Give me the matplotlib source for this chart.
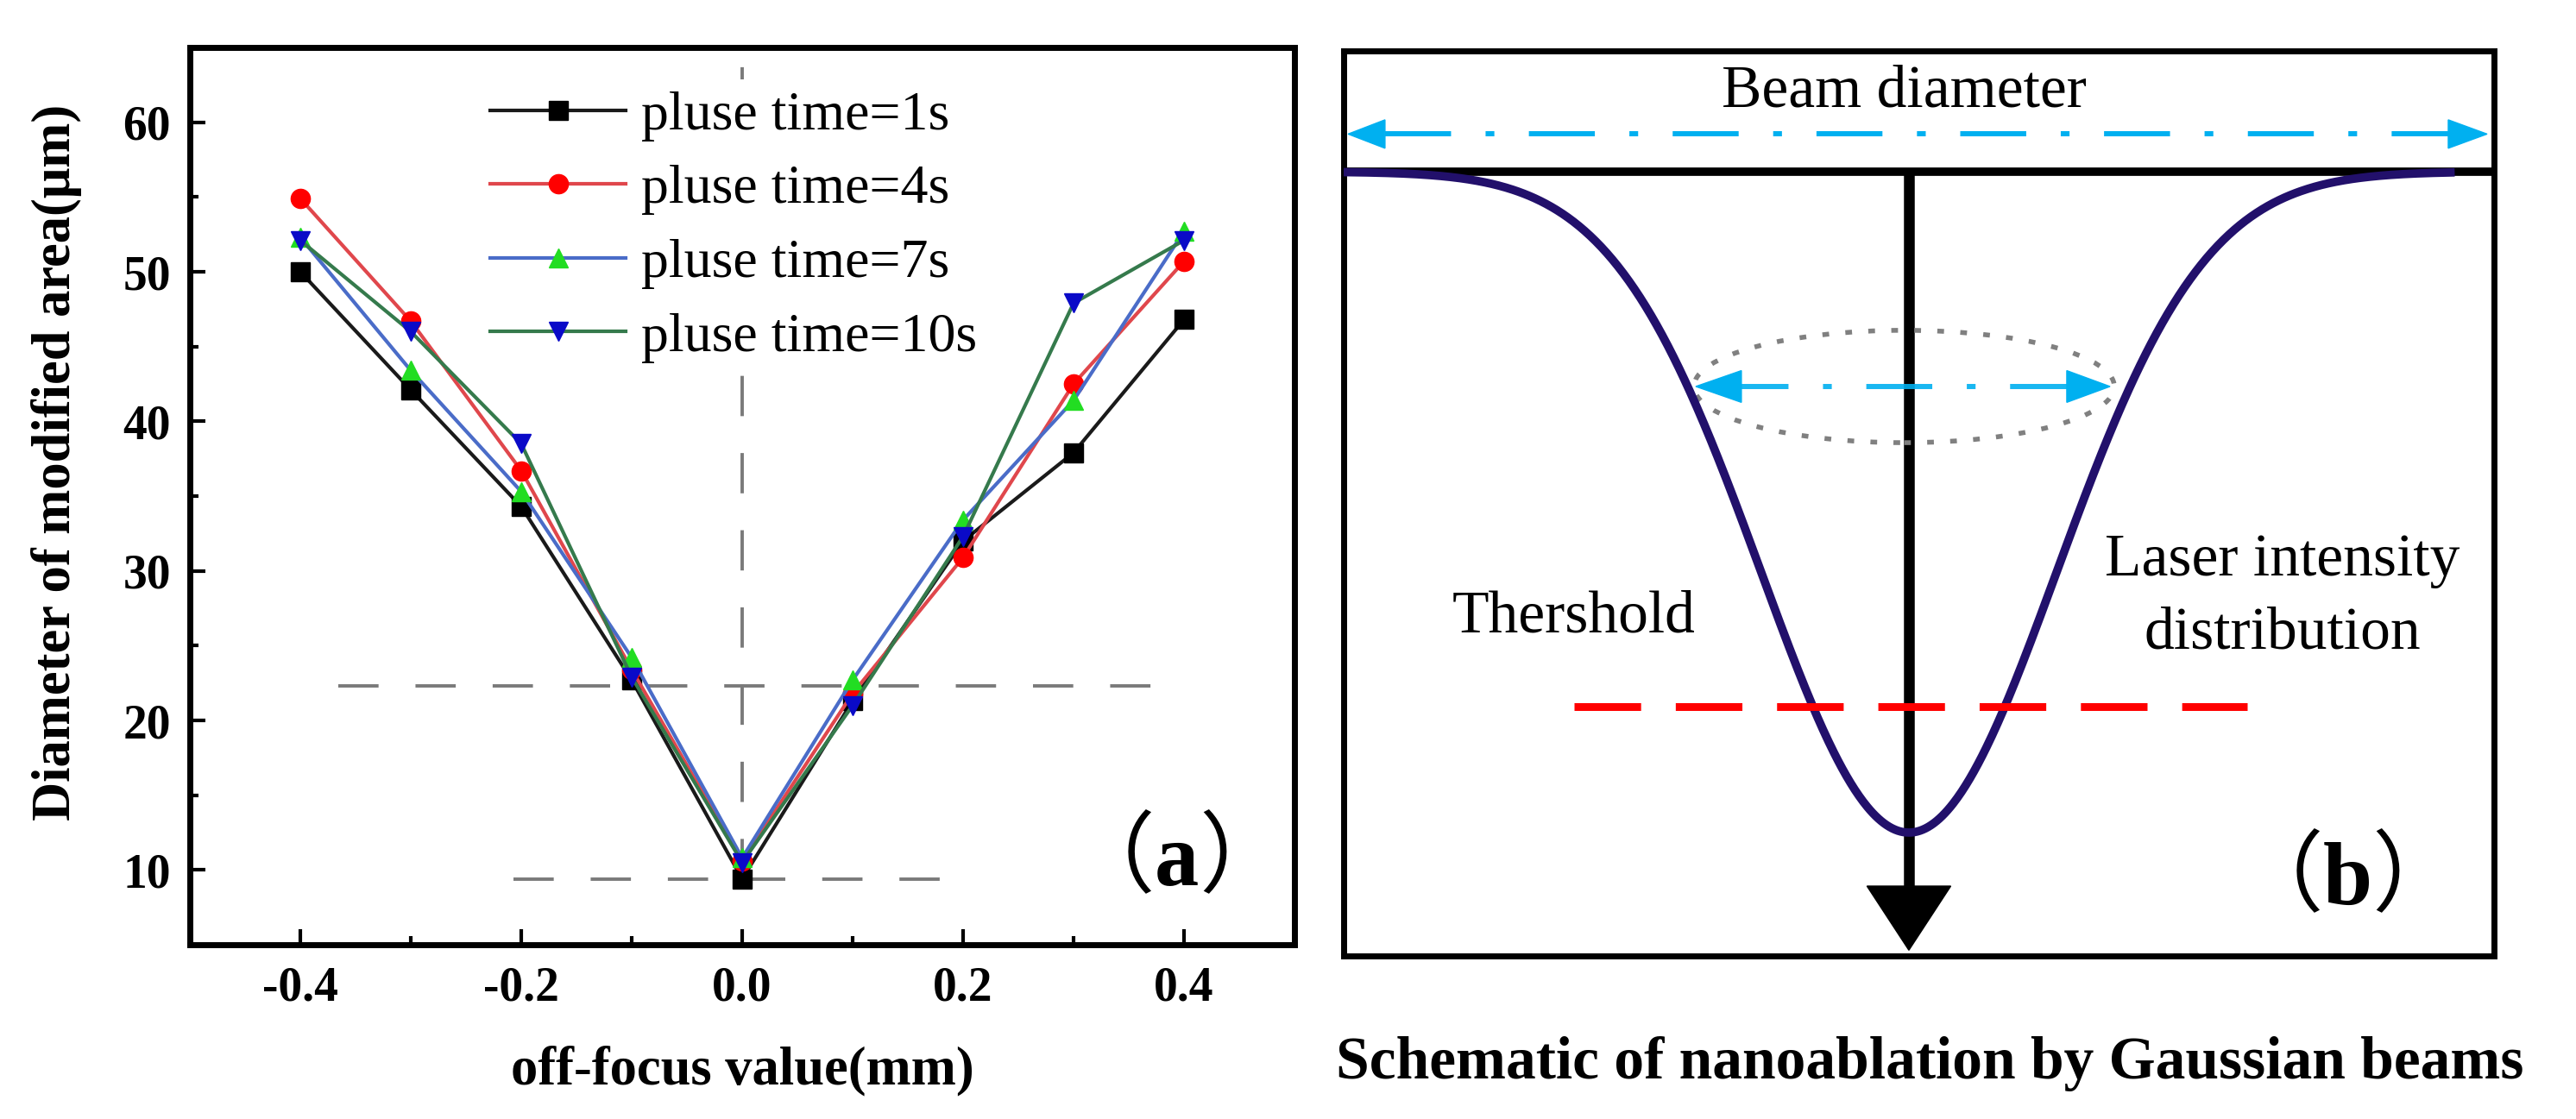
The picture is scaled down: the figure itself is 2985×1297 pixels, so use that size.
import numpy as np
import matplotlib
matplotlib.use("Agg")
import matplotlib.pyplot as plt
from matplotlib.patches import Ellipse
from matplotlib.ticker import MultipleLocator

plt.rcParams['font.family'] = ['Liberation Serif', 'Noto Sans CJK SC', 'DejaVu Sans']
plt.rcParams['mathtext.fontset'] = 'custom'
plt.rcParams['mathtext.bf'] = 'Liberation Serif:bold'
plt.rcParams['mathtext.rm'] = 'Liberation Serif'

# ---------------- data: panel (a) ----------------
off_focus = [-0.4, -0.3, -0.2, -0.1, 0.0, 0.1, 0.2, 0.3, 0.4]
diam_1s = [50.0, 42.1, 34.3, 22.7, 9.4, 21.3, 32.0, 37.9, 46.8]
diam_4s = [54.9, 46.7, 36.7, 23.4, 10.6, 21.8, 30.9, 42.5, 50.7]
diam_7s = [52.3, 43.4, 35.3, 24.2, 10.8, 22.7, 33.4, 41.4, 52.7]
diam_10s = [52.1, 46.0, 38.5, 22.9, 10.5, 21.0, 32.3, 47.9, 52.1]
series_labels = ['pluse time=1s', 'pluse time=4s', 'pluse time=7s', 'pluse time=10s']

x_ticks = [-0.4, -0.2, 0.0, 0.2, 0.4]
x_tick_labels = ['-0.4', '-0.2', '0.0', '0.2', '0.4']
y_ticks = [10, 20, 30, 40, 50, 60]

# guide lines (values)
focus_x = 0.0
focus_span = (9.4, 64.2)
guide_upper_y = 22.3
guide_upper_span = (-0.366, 0.389)
guide_lower_y = 9.4
guide_lower_span = (-0.207, 0.204)

# ---------------- schematic values: panel (b) ----------------
beam_sigma = 1.0
beam_depth = 1.0
curve_span = (-3.83, 3.67)
threshold_level = -0.81
threshold_span = (-2.27, 2.29)
beam_arrow_level = 0.057
beam_arrow_tips = (-3.80, 3.918)
beam_arrow_bases = (-3.55, 3.655)
probe_level = -0.325
probe_tips = (-1.444, 1.363)
probe_bases = (-1.135, 1.070)
probe_line = (-1.263, 1.099)
probe_ellipse = (-0.032, 2.848, 0.170)   # centre x, width, height
axis_head_base = -1.081
axis_head_tip = -1.178
axis_head_half = 0.284

W, H = 2985, 1297
fig = plt.figure(figsize=(W / 100, H / 100), dpi=100)

# ======================= panel (a) =======================
ax = fig.add_axes([220 / W, 1 - 1095 / H, 1280 / W, 1040 / H])
ax.set_xlim(-0.5, 0.5)
ax.set_ylim(5, 65)

line_colors = ['#1a1a1a', '#e0474c', '#4a6cc8', '#357a4c']
marker_colors = ['#000000', '#ff0000', '#22dd22', '#0a0ac8']
markers = ['s', 'o', '^', 'v']
for vals, lab, lc, mc, mk in zip([diam_1s, diam_4s, diam_7s, diam_10s], series_labels,
                                 line_colors, marker_colors, markers):
    ax.plot(off_focus, vals, color=lc, lw=3, marker=mk, ms=16, mfc=mc, mec=mc, label=lab, zorder=3)

dash = (0, (12, 11))
ax.plot([focus_x, focus_x], focus_span, color='#7a7a7a', lw=2.8, ls=dash, zorder=1)
ax.plot(guide_upper_span, [guide_upper_y] * 2, color='#7a7a7a', lw=2.8, ls=dash, zorder=1)
ax.plot(guide_lower_span, [guide_lower_y] * 2, color='#7a7a7a', lw=2.8, ls=dash, zorder=1)

ax.set_xticks(x_ticks)
ax.set_xticklabels(x_tick_labels, fontweight='bold', fontsize=40)
ax.set_yticks(y_ticks)
ax.set_yticklabels([str(v) for v in y_ticks], fontweight='bold', fontsize=40)
ax.xaxis.set_minor_locator(MultipleLocator(0.1))
ax.yaxis.set_minor_locator(MultipleLocator(5))
ax.tick_params(which='both', direction='in', top=False, right=False, width=3)
ax.tick_params(which='major', length=13)
ax.tick_params(which='minor', length=7)
ax.tick_params(axis='x', pad=18)
ax.tick_params(axis='y', pad=16)
for s in ax.spines.values():
    s.set_linewidth(5)

ax.set_xlabel('off-focus value(mm)', fontsize=45, fontweight='bold')
ax.set_ylabel('Diameter of modified area(μm)', fontsize=45, fontweight='bold')
ax.xaxis.set_label_coords(0.5, -0.112)
ax.yaxis.set_label_coords(-0.098, 0.5375)

leg = ax.legend(loc='upper left', bbox_to_anchor=(0.262, 0.964), frameon=True,
                facecolor='white', edgecolor='none', framealpha=1, fontsize=46,
                handlelength=2.46, handletextpad=0.27, labelspacing=0.42,
                borderpad=0.2, borderaxespad=0)
leg.set_zorder(2)

ax.text(0.366, 10.65, '（$\\mathbf{a}$）', fontsize=74, family='Noto Sans CJK SC',
        ha='center', va='center')

# ======================= panel (b) =======================
axb = fig.add_axes([1557 / W, 1 - 1108 / H, (2890 - 1557) / W, (1108 - 59) / H])
axb.set_xlim(-3.830, 3.965)
axb.set_ylim(-1.1867, 0.1828)
axb.set_xticks([])
axb.set_yticks([])
for s in axb.spines.values():
    s.set_linewidth(5)

# top reference line
axb.plot([-3.830, 3.965], [0, 0], color='black', lw=7, zorder=2, solid_capstyle='butt')
# central axis with arrow head
axb.plot([0, 0], [0, axis_head_base], color='black', lw=9, zorder=2, solid_capstyle='butt')
axb.fill([-axis_head_half, axis_head_half, 0],
         [axis_head_base, axis_head_base, axis_head_tip], color='black', zorder=2)

# Gaussian intensity distribution
xs = np.linspace(curve_span[0], curve_span[1], 800)
ys = -beam_depth * np.exp(-xs ** 2 / (2 * beam_sigma ** 2))
axb.plot(xs, ys, color='#22106b', lw=7, zorder=4)

# threshold
axb.plot(threshold_span, [threshold_level] * 2, color='#ff0000', lw=6.5,
         ls=(0, (8.55, 4.45)), zorder=5)

# blue dash-dot arrows
blue = '#00b0f0'
ddot = (0, (12.8, 6.7, 1.7, 6.7))
axb.plot(beam_arrow_bases, [beam_arrow_level] * 2, color=blue, lw=4.3, ls=ddot, zorder=5)
hl_y = 0.0215
for tip, base in zip(beam_arrow_tips, beam_arrow_bases):
    axb.fill([tip, base, base], [beam_arrow_level, beam_arrow_level + hl_y, beam_arrow_level - hl_y],
             color=blue, zorder=5)

axb.plot(probe_line, [probe_level] * 2, color=blue, lw=4.3, ls=ddot, zorder=5, alpha=0.9)
hp_y = 0.024
for tip, base in zip(probe_tips, probe_bases):
    axb.fill([tip, base, base], [probe_level, probe_level + hp_y, probe_level - hp_y],
             color=blue, zorder=5)

ell = Ellipse((probe_ellipse[0], probe_level), probe_ellipse[1], probe_ellipse[2],
              fill=False, edgecolor='#808080', lw=4.0, ls=(0, (1.4, 3.4)), zorder=3)
axb.add_patch(ell)

axb.text(-0.03, 0.0992, 'Beam diameter', fontsize=50, ha='center', va='baseline')
axb.text(-2.27, -0.697, 'Thershold', fontsize=50, ha='center', va='baseline')
axb.text(2.53, -0.611, 'Laser intensity', fontsize=50, ha='center', va='baseline')
axb.text(2.53, -0.721, 'distribution', fontsize=50, ha='center', va='baseline')
axb.text(2.77, -1.070, '（$\\mathbf{b}$）', fontsize=74, family='Noto Sans CJK SC',
         ha='center', va='center')

fig.text(2236 / W, 1 - 1233 / H, 'Schematic of nanoablation by Gaussian beams',
         fontsize=50, fontweight='bold', ha='center', va='center')

fig.savefig('out.png', dpi=100)
